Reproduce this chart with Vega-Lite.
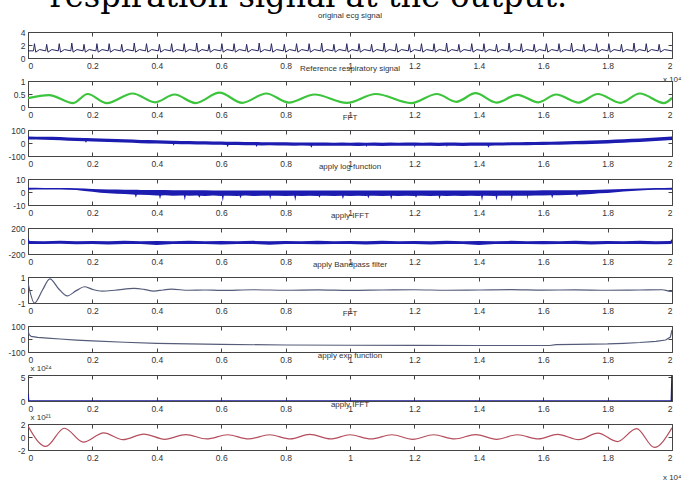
{
"$schema": "https://vega.github.io/schema/vega-lite/v6.json",
"padding": {"left": 7, "top": -20, "right": 4, "bottom": 2},
"title": {"text": "respiration signal at the output.", "font": "DejaVu Serif", "fontSize": 32, "fontWeight": "normal", "color": "#000000", "anchor": "start", "dx": 42, "offset": -2},
"spacing": 23,
"bounds": "flush",
"config": {
 "view": {"stroke": "#444444", "strokeWidth": 1},
 "axis": {"domain": false, "grid": false, "tickSize": -4, "tickColor": "#444444", "labelFont": "Liberation Sans", "labelFontSize": 8.5, "labelColor": "#333333", "labelPadding": 7, "titleFont": "Liberation Sans", "titleFontSize": 8, "titleFontWeight": "normal", "titleColor": "#333333"},
 "title": {"font": "Liberation Sans", "fontSize": 8, "fontWeight": "normal", "color": "#333333", "offset": 4}
},
"datasets": {
"frame": [{"x": 1, "y": 0}],
"ecg": [
{"x":0,"y":1.1},
{"x":0.017,"y":1.1},{"x":0.020,"y":2.2},{"x":0.024,"y":0.9},{"x":0.036,"y":1.3},
{"x":0.055,"y":1.1},{"x":0.058,"y":2.1},{"x":0.062,"y":0.9},{"x":0.074,"y":1.3},
{"x":0.094,"y":1.1},{"x":0.097,"y":2.2},{"x":0.101,"y":0.9},{"x":0.113,"y":1.3},
{"x":0.133,"y":1.1},{"x":0.136,"y":2.3},{"x":0.140,"y":0.9},{"x":0.152,"y":1.3},
{"x":0.171,"y":1.1},{"x":0.174,"y":2.1},{"x":0.178,"y":0.9},{"x":0.190,"y":1.3},
{"x":0.211,"y":1.1},{"x":0.214,"y":2.2},{"x":0.218,"y":0.9},{"x":0.230,"y":1.3},
{"x":0.249,"y":1.1},{"x":0.252,"y":2.2},{"x":0.256,"y":0.9},{"x":0.268,"y":1.3},
{"x":0.288,"y":1.1},{"x":0.291,"y":2.1},{"x":0.295,"y":0.9},{"x":0.307,"y":1.3},
{"x":0.327,"y":1.1},{"x":0.330,"y":2.3},{"x":0.334,"y":0.9},{"x":0.346,"y":1.3},
{"x":0.365,"y":1.1},{"x":0.368,"y":2.2},{"x":0.372,"y":0.9},{"x":0.384,"y":1.3},
{"x":0.405,"y":1.1},{"x":0.408,"y":2.1},{"x":0.412,"y":0.9},{"x":0.424,"y":1.3},
{"x":0.443,"y":1.1},{"x":0.446,"y":2.2},{"x":0.450,"y":0.9},{"x":0.462,"y":1.3},
{"x":0.482,"y":1.1},{"x":0.485,"y":2.2},{"x":0.489,"y":0.9},{"x":0.501,"y":1.3},
{"x":0.521,"y":1.1},{"x":0.524,"y":2.3},{"x":0.528,"y":0.9},{"x":0.540,"y":1.3},
{"x":0.559,"y":1.1},{"x":0.562,"y":2.1},{"x":0.566,"y":0.9},{"x":0.578,"y":1.3},
{"x":0.599,"y":1.1},{"x":0.602,"y":2.2},{"x":0.606,"y":0.9},{"x":0.618,"y":1.3},
{"x":0.637,"y":1.1},{"x":0.640,"y":2.2},{"x":0.644,"y":0.9},{"x":0.656,"y":1.3},
{"x":0.676,"y":1.1},{"x":0.679,"y":2.1},{"x":0.683,"y":0.9},{"x":0.695,"y":1.3},
{"x":0.715,"y":1.1},{"x":0.718,"y":2.3},{"x":0.722,"y":0.9},{"x":0.734,"y":1.3},
{"x":0.753,"y":1.1},{"x":0.756,"y":2.2},{"x":0.760,"y":0.9},{"x":0.772,"y":1.3},
{"x":0.793,"y":1.1},{"x":0.796,"y":2.1},{"x":0.800,"y":0.9},{"x":0.812,"y":1.3},
{"x":0.831,"y":1.1},{"x":0.834,"y":2.2},{"x":0.838,"y":0.9},{"x":0.850,"y":1.3},
{"x":0.870,"y":1.1},{"x":0.873,"y":2.2},{"x":0.877,"y":0.9},{"x":0.889,"y":1.3},
{"x":0.909,"y":1.1},{"x":0.912,"y":2.3},{"x":0.916,"y":0.9},{"x":0.928,"y":1.3},
{"x":0.947,"y":1.1},{"x":0.950,"y":2.1},{"x":0.954,"y":0.9},{"x":0.966,"y":1.3},
{"x":0.987,"y":1.1},{"x":0.990,"y":2.2},{"x":0.994,"y":0.9},{"x":1.006,"y":1.3},
{"x":1.025,"y":1.1},{"x":1.028,"y":2.2},{"x":1.032,"y":0.9},{"x":1.044,"y":1.3},
{"x":1.064,"y":1.1},{"x":1.067,"y":2.1},{"x":1.071,"y":0.9},{"x":1.083,"y":1.3},
{"x":1.103,"y":1.1},{"x":1.106,"y":2.3},{"x":1.110,"y":0.9},{"x":1.122,"y":1.3},
{"x":1.141,"y":1.1},{"x":1.144,"y":2.2},{"x":1.148,"y":0.9},{"x":1.160,"y":1.3},
{"x":1.181,"y":1.1},{"x":1.184,"y":2.1},{"x":1.188,"y":0.9},{"x":1.200,"y":1.3},
{"x":1.219,"y":1.1},{"x":1.222,"y":2.2},{"x":1.226,"y":0.9},{"x":1.238,"y":1.3},
{"x":1.258,"y":1.1},{"x":1.261,"y":2.2},{"x":1.265,"y":0.9},{"x":1.277,"y":1.3},
{"x":1.297,"y":1.1},{"x":1.300,"y":2.3},{"x":1.304,"y":0.9},{"x":1.316,"y":1.3},
{"x":1.335,"y":1.1},{"x":1.338,"y":2.1},{"x":1.342,"y":0.9},{"x":1.354,"y":1.3},
{"x":1.375,"y":1.1},{"x":1.378,"y":2.2},{"x":1.382,"y":0.9},{"x":1.394,"y":1.3},
{"x":1.413,"y":1.1},{"x":1.416,"y":2.2},{"x":1.420,"y":0.9},{"x":1.432,"y":1.3},
{"x":1.452,"y":1.1},{"x":1.455,"y":2.1},{"x":1.459,"y":0.9},{"x":1.471,"y":1.3},
{"x":1.491,"y":1.1},{"x":1.494,"y":2.3},{"x":1.498,"y":0.9},{"x":1.510,"y":1.3},
{"x":1.529,"y":1.1},{"x":1.532,"y":2.2},{"x":1.536,"y":0.9},{"x":1.548,"y":1.3},
{"x":1.569,"y":1.1},{"x":1.572,"y":2.1},{"x":1.576,"y":0.9},{"x":1.588,"y":1.3},
{"x":1.607,"y":1.1},{"x":1.610,"y":2.2},{"x":1.614,"y":0.9},{"x":1.626,"y":1.3},
{"x":1.646,"y":1.1},{"x":1.649,"y":2.2},{"x":1.653,"y":0.9},{"x":1.665,"y":1.3},
{"x":1.685,"y":1.1},{"x":1.688,"y":2.3},{"x":1.692,"y":0.9},{"x":1.704,"y":1.3},
{"x":1.723,"y":1.1},{"x":1.726,"y":2.1},{"x":1.730,"y":0.9},{"x":1.742,"y":1.3},
{"x":1.763,"y":1.1},{"x":1.766,"y":2.2},{"x":1.770,"y":0.9},{"x":1.782,"y":1.3},
{"x":1.801,"y":1.1},{"x":1.804,"y":2.2},{"x":1.808,"y":0.9},{"x":1.820,"y":1.3},
{"x":1.840,"y":1.1},{"x":1.843,"y":2.1},{"x":1.847,"y":0.9},{"x":1.859,"y":1.3},
{"x":1.879,"y":1.1},{"x":1.882,"y":2.3},{"x":1.886,"y":0.9},{"x":1.898,"y":1.3},
{"x":1.917,"y":1.1},{"x":1.920,"y":2.2},{"x":1.924,"y":0.9},{"x":1.936,"y":1.3},
{"x":1.957,"y":1.1},{"x":1.960,"y":2.1},{"x":1.964,"y":0.9},{"x":1.976,"y":1.3},
{"x":2.0,"y":1.1}
],
"resp": [
{"x":0,"y":0.34},{"x":0.065,"y":0.46},{"x":0.14,"y":0.15},{"x":0.185,"y":0.5},{"x":0.245,"y":0.15},{"x":0.325,"y":0.52},{"x":0.395,"y":0.18},{"x":0.455,"y":0.48},{"x":0.52,"y":0.15},{"x":0.595,"y":0.55},{"x":0.665,"y":0.16},{"x":0.74,"y":0.52},{"x":0.81,"y":0.17},{"x":0.89,"y":0.48},{"x":0.99,"y":0.16},{"x":1.08,"y":0.5},{"x":1.19,"y":0.15},{"x":1.27,"y":0.5},{"x":1.33,"y":0.2},{"x":1.39,"y":0.53},{"x":1.455,"y":0.17},{"x":1.52,"y":0.47},{"x":1.585,"y":0.18},{"x":1.64,"y":0.48},{"x":1.71,"y":0.17},{"x":1.77,"y":0.5},{"x":1.84,"y":0.16},{"x":1.9,"y":0.52},{"x":1.975,"y":0.15},{"x":2.0,"y":0.35}
],
"fft1": [
{"x":0,"lo":26,"hi":50},{"x":0.025,"lo":27,"hi":49},{"x":0.05,"lo":25,"hi":48},{"x":0.075,"lo":24,"hi":48},{"x":0.1,"lo":21,"hi":46},{"x":0.125,"lo":18,"hi":43},{"x":0.15,"lo":16,"hi":41},{"x":0.175,"lo":14,"hi":39},{"x":0.2,"lo":12,"hi":36},{"x":0.225,"lo":9,"hi":34},{"x":0.25,"lo":7,"hi":32},{"x":0.275,"lo":5,"hi":30},{"x":0.3,"lo":3,"hi":28},{"x":0.325,"lo":1,"hi":26},{"x":0.35,"lo":-2,"hi":24},{"x":0.375,"lo":-4,"hi":23},{"x":0.4,"lo":-3,"hi":22},{"x":0.425,"lo":-6,"hi":20},{"x":0.45,"lo":-8,"hi":18},{"x":0.475,"lo":-9,"hi":16},{"x":0.5,"lo":-10,"hi":15},{"x":0.525,"lo":-12,"hi":14},{"x":0.55,"lo":-11,"hi":13},{"x":0.575,"lo":-14,"hi":12},{"x":0.6,"lo":-13,"hi":11},{"x":0.625,"lo":-15,"hi":10},{"x":0.65,"lo":-16,"hi":9},{"x":0.675,"lo":-17,"hi":8},{"x":0.7,"lo":-18,"hi":7},{"x":0.725,"lo":-19,"hi":6},{"x":0.75,"lo":-18,"hi":6},{"x":0.775,"lo":-20,"hi":5},{"x":0.8,"lo":-19,"hi":5},{"x":0.825,"lo":-21,"hi":4},{"x":0.85,"lo":-20,"hi":4},{"x":0.875,"lo":-21,"hi":3},{"x":0.9,"lo":-21,"hi":3},{"x":0.925,"lo":-22,"hi":3},{"x":0.95,"lo":-21,"hi":2},{"x":0.975,"lo":-22,"hi":3},{"x":1.0,"lo":-21,"hi":2},{"x":1.025,"lo":-23,"hi":3},{"x":1.05,"lo":-22,"hi":2},{"x":1.075,"lo":-21,"hi":3},{"x":1.1,"lo":-23,"hi":2},{"x":1.125,"lo":-22,"hi":3},{"x":1.15,"lo":-22,"hi":2},{"x":1.175,"lo":-21,"hi":3},{"x":1.2,"lo":-22,"hi":3},{"x":1.225,"lo":-22,"hi":2},{"x":1.25,"lo":-21,"hi":3},{"x":1.275,"lo":-23,"hi":2},{"x":1.3,"lo":-22,"hi":3},{"x":1.325,"lo":-21,"hi":3},{"x":1.35,"lo":-23,"hi":2},{"x":1.375,"lo":-22,"hi":3},{"x":1.4,"lo":-21,"hi":3},{"x":1.425,"lo":-21,"hi":3},{"x":1.45,"lo":-20,"hi":4},{"x":1.475,"lo":-19,"hi":4},{"x":1.5,"lo":-18,"hi":5},{"x":1.525,"lo":-18,"hi":6},{"x":1.55,"lo":-17,"hi":7},{"x":1.575,"lo":-16,"hi":8},{"x":1.6,"lo":-15,"hi":9},{"x":1.625,"lo":-14,"hi":10},{"x":1.65,"lo":-13,"hi":11},{"x":1.675,"lo":-12,"hi":13},{"x":1.7,"lo":-10,"hi":15},{"x":1.725,"lo":-9,"hi":17},{"x":1.75,"lo":-7,"hi":19},{"x":1.775,"lo":-5,"hi":21},{"x":1.8,"lo":-3,"hi":23},{"x":1.825,"lo":0,"hi":26},{"x":1.85,"lo":2,"hi":29},{"x":1.875,"lo":5,"hi":32},{"x":1.9,"lo":8,"hi":35},{"x":1.925,"lo":12,"hi":39},{"x":1.95,"lo":16,"hi":42},{"x":1.975,"lo":20,"hi":46},{"x":2.0,"lo":24,"hi":50},
{"x":0.177,"lo":13,"hi":38},{"x":0.18,"lo":2,"hi":38},{"x":0.183,"lo":13,"hi":38},
{"x":0.449,"lo":-8,"hi":18},{"x":0.452,"lo":-22,"hi":18},{"x":0.455,"lo":-8,"hi":18},
{"x":0.617,"lo":-15,"hi":10},{"x":0.62,"lo":-32,"hi":10},{"x":0.623,"lo":-15,"hi":10},
{"x":0.707,"lo":-18,"hi":7},{"x":0.71,"lo":-30,"hi":7},{"x":0.713,"lo":-18,"hi":7},
{"x":0.877,"lo":-21,"hi":3},{"x":0.88,"lo":-36,"hi":3},{"x":0.883,"lo":-21,"hi":3},
{"x":1.047,"lo":-22,"hi":2},{"x":1.05,"lo":-33,"hi":2},{"x":1.053,"lo":-22,"hi":2},
{"x":1.197,"lo":-22,"hi":3},{"x":1.2005,"lo":-38,"hi":3},{"x":1.203,"lo":-22,"hi":3},
{"x":1.297,"lo":-22,"hi":3},{"x":1.3005,"lo":-31,"hi":3},{"x":1.303,"lo":-22,"hi":3},
{"x":1.427,"lo":-21,"hi":3},{"x":1.43,"lo":-36,"hi":3},{"x":1.433,"lo":-21,"hi":3}
],
"logf": [
{"x":0,"lo":1.8,"hi":3.3},{"x":0.025,"lo":2.0,"hi":3.2},{"x":0.05,"lo":2.0,"hi":3.1},{"x":0.075,"lo":1.9,"hi":3.1},{"x":0.1,"lo":1.9,"hi":3.0},{"x":0.125,"lo":1.8,"hi":3.0},{"x":0.15,"lo":1.5,"hi":2.9},{"x":0.175,"lo":0.8,"hi":2.7},{"x":0.2,"lo":0.2,"hi":2.4},{"x":0.225,"lo":-0.5,"hi":2.2},{"x":0.25,"lo":-1.0,"hi":2.0},{"x":0.275,"lo":-1.3,"hi":1.9},{"x":0.3,"lo":-1.6,"hi":1.8},
{"x":0.325,"lo":-2.0,"hi":1.7},{"x":0.35,"lo":-2.2,"hi":1.6},{"x":0.375,"lo":-2.4,"hi":1.6},{"x":0.4,"lo":-2.6,"hi":1.5},{"x":0.425,"lo":-2.5,"hi":1.5},{"x":0.45,"lo":-2.8,"hi":1.4},{"x":0.475,"lo":-2.6,"hi":1.4},{"x":0.5,"lo":-2.9,"hi":1.3},{"x":0.525,"lo":-2.7,"hi":1.3},{"x":0.55,"lo":-3.0,"hi":1.3},{"x":0.575,"lo":-2.7,"hi":1.2},{"x":0.6,"lo":-3.1,"hi":1.2},{"x":0.625,"lo":-2.8,"hi":1.2},{"x":0.65,"lo":-3.0,"hi":1.2},{"x":0.675,"lo":-2.7,"hi":1.2},{"x":0.7,"lo":-3.1,"hi":1.1},{"x":0.725,"lo":-2.8,"hi":1.1},{"x":0.75,"lo":-3.0,"hi":1.1},{"x":0.775,"lo":-2.8,"hi":1.1},{"x":0.8,"lo":-3.1,"hi":1.1},{"x":0.825,"lo":-2.9,"hi":1.1},{"x":0.85,"lo":-3.0,"hi":1.1},{"x":0.875,"lo":-2.8,"hi":1.1},{"x":0.9,"lo":-3.1,"hi":1.1},{"x":0.925,"lo":-2.9,"hi":1.1},{"x":0.95,"lo":-3.0,"hi":1.1},{"x":0.975,"lo":-2.8,"hi":1.1},{"x":1.0,"lo":-3.1,"hi":1.1},{"x":1.025,"lo":-2.9,"hi":1.1},{"x":1.05,"lo":-3.0,"hi":1.1},{"x":1.075,"lo":-2.8,"hi":1.1},{"x":1.1,"lo":-3.1,"hi":1.1},{"x":1.125,"lo":-2.9,"hi":1.1},{"x":1.15,"lo":-3.0,"hi":1.1},{"x":1.175,"lo":-2.8,"hi":1.1},{"x":1.2,"lo":-3.1,"hi":1.1},{"x":1.225,"lo":-2.9,"hi":1.1},{"x":1.25,"lo":-3.0,"hi":1.1},{"x":1.275,"lo":-2.8,"hi":1.1},{"x":1.3,"lo":-3.1,"hi":1.1},{"x":1.325,"lo":-2.9,"hi":1.1},{"x":1.35,"lo":-3.0,"hi":1.1},{"x":1.375,"lo":-2.8,"hi":1.1},{"x":1.4,"lo":-3.1,"hi":1.1},{"x":1.425,"lo":-2.9,"hi":1.1},{"x":1.45,"lo":-3.0,"hi":1.2},{"x":1.475,"lo":-2.8,"hi":1.2},{"x":1.5,"lo":-3.0,"hi":1.2},{"x":1.525,"lo":-2.8,"hi":1.2},{"x":1.55,"lo":-2.9,"hi":1.2},{"x":1.575,"lo":-2.7,"hi":1.2},{"x":1.6,"lo":-2.7,"hi":1.3},{"x":1.625,"lo":-2.5,"hi":1.3},{"x":1.65,"lo":-2.5,"hi":1.3},{"x":1.675,"lo":-2.3,"hi":1.4},{"x":1.7,"lo":-2.2,"hi":1.4},
{"x":1.725,"lo":-2.0,"hi":1.5},{"x":1.75,"lo":-1.6,"hi":1.6},{"x":1.775,"lo":-1.0,"hi":1.8},{"x":1.8,"lo":-0.7,"hi":1.9},{"x":1.825,"lo":-0.2,"hi":2.1},{"x":1.85,"lo":0.3,"hi":2.3},{"x":1.875,"lo":0.8,"hi":2.5},{"x":1.9,"lo":1.2,"hi":2.7},{"x":1.925,"lo":1.5,"hi":2.9},{"x":1.95,"lo":1.7,"hi":3.0},{"x":1.975,"lo":1.8,"hi":3.1},{"x":2.0,"lo":1.8,"hi":3.3},
{"x":0.332,"lo":-2.1,"hi":1.7},{"x":0.335,"lo":-4.5,"hi":1.7},{"x":0.338,"lo":-2.1,"hi":1.7},
{"x":0.407,"lo":-2.6,"hi":1.5},{"x":0.41,"lo":-5.5,"hi":1.5},{"x":0.413,"lo":-2.6,"hi":1.5},
{"x":0.484,"lo":-2.7,"hi":1.4},{"x":0.487,"lo":-6.5,"hi":1.4},{"x":0.49,"lo":-2.7,"hi":1.4},
{"x":0.529,"lo":-2.8,"hi":1.3},{"x":0.532,"lo":-4.5,"hi":1.3},{"x":0.535,"lo":-2.8,"hi":1.3},
{"x":0.602,"lo":-2.9,"hi":1.2},{"x":0.605,"lo":-7.5,"hi":1.2},{"x":0.608,"lo":-2.9,"hi":1.2},
{"x":0.657,"lo":-2.9,"hi":1.2},{"x":0.66,"lo":-5.0,"hi":1.2},{"x":0.663,"lo":-2.9,"hi":1.2},
{"x":0.749,"lo":-2.9,"hi":1.1},{"x":0.752,"lo":-6.0,"hi":1.1},{"x":0.755,"lo":-2.9,"hi":1.1},
{"x":0.827,"lo":-2.9,"hi":1.1},{"x":0.83,"lo":-7.0,"hi":1.1},{"x":0.833,"lo":-2.9,"hi":1.1},
{"x":0.902,"lo":-2.9,"hi":1.1},{"x":0.905,"lo":-4.5,"hi":1.1},{"x":0.908,"lo":-2.9,"hi":1.1},
{"x":0.975,"lo":-2.9,"hi":1.1},{"x":0.978,"lo":-5.5,"hi":1.1},{"x":0.981,"lo":-2.9,"hi":1.1},
{"x":1.054,"lo":-2.9,"hi":1.1},{"x":1.057,"lo":-5.0,"hi":1.1},{"x":1.06,"lo":-2.9,"hi":1.1},
{"x":1.128,"lo":-6.0,"hi":1.1},{"x":1.131,"lo":-2.9,"hi":1.1},
{"x":1.202,"lo":-2.9,"hi":1.1},{"x":1.205,"lo":-4.5,"hi":1.1},{"x":1.208,"lo":-2.9,"hi":1.1},
{"x":1.278,"lo":-5.5,"hi":1.1},{"x":1.281,"lo":-2.9,"hi":1.1},
{"x":1.407,"lo":-2.9,"hi":1.1},{"x":1.41,"lo":-7.0,"hi":1.1},{"x":1.413,"lo":-2.9,"hi":1.1},
{"x":1.452,"lo":-2.9,"hi":1.2},{"x":1.455,"lo":-6.5,"hi":1.2},{"x":1.458,"lo":-2.9,"hi":1.2},
{"x":1.499,"lo":-2.9,"hi":1.2},{"x":1.502,"lo":-7.5,"hi":1.2},{"x":1.505,"lo":-2.9,"hi":1.2},
{"x":1.55,"lo":-6.0,"hi":1.2},{"x":1.553,"lo":-2.8,"hi":1.2},
{"x":1.628,"lo":-5.0,"hi":1.3},{"x":1.631,"lo":-2.5,"hi":1.3},
{"x":1.702,"lo":-2.2,"hi":1.4},{"x":1.705,"lo":-4.0,"hi":1.4},{"x":1.708,"lo":-2.2,"hi":1.4}
],
"ifft1": [
{"x":0,"lo":-40,"hi":45},{"x":0.005,"lo":-45,"hi":0},{"x":0.05,"lo":-48,"hi":-2},{"x":0.1,"lo":-44,"hi":3},{"x":0.15,"lo":-50,"hi":-5},{"x":0.2,"lo":-46,"hi":0},{"x":0.25,"lo":-55,"hi":-3},{"x":0.3,"lo":-45,"hi":2},{"x":0.35,"lo":-47,"hi":-4},{"x":0.4,"lo":-60,"hi":0},{"x":0.45,"lo":-45,"hi":-2},{"x":0.5,"lo":-48,"hi":4},{"x":0.55,"lo":-46,"hi":-3},{"x":0.6,"lo":-52,"hi":0},{"x":0.65,"lo":-45,"hi":-4},{"x":0.7,"lo":-47,"hi":2},{"x":0.75,"lo":-58,"hi":-2},{"x":0.8,"lo":-46,"hi":0},{"x":0.85,"lo":-45,"hi":-3},{"x":0.9,"lo":-50,"hi":3},{"x":0.95,"lo":-46,"hi":-2},{"x":1.0,"lo":-47,"hi":0},{"x":1.05,"lo":-55,"hi":-4},{"x":1.1,"lo":-45,"hi":2},{"x":1.15,"lo":-48,"hi":-2},{"x":1.2,"lo":-46,"hi":0},{"x":1.25,"lo":-52,"hi":-3},{"x":1.3,"lo":-45,"hi":3},{"x":1.35,"lo":-47,"hi":-2},{"x":1.4,"lo":-60,"hi":0},{"x":1.45,"lo":-46,"hi":-4},{"x":1.5,"lo":-48,"hi":2},{"x":1.55,"lo":-45,"hi":-2},{"x":1.6,"lo":-50,"hi":0},{"x":1.65,"lo":-46,"hi":-3},{"x":1.7,"lo":-47,"hi":3},{"x":1.75,"lo":-55,"hi":-2},{"x":1.8,"lo":-45,"hi":0},{"x":1.85,"lo":-48,"hi":-3},{"x":1.9,"lo":-46,"hi":2},{"x":1.95,"lo":-50,"hi":-2},{"x":1.995,"lo":-45,"hi":0},{"x":2.0,"lo":-40,"hi":30}
],
"bp": [
{"x":0,"y":0.55},{"x":0.02,"y":-1.0},{"x":0.045,"y":0.0},{"x":0.068,"y":0.85},{"x":0.095,"y":0.1},{"x":0.122,"y":-0.45},{"x":0.15,"y":-0.05},{"x":0.175,"y":0.25},{"x":0.2,"y":0.05},{"x":0.23,"y":-0.08},{"x":0.27,"y":-0.02},{"x":0.33,"y":0.12},{"x":0.36,"y":0.05},{"x":0.39,"y":-0.08},{"x":0.42,"y":0.0},{"x":0.445,"y":0.06},{"x":0.5,"y":-0.02},{"x":0.55,"y":0.0},{"x":0.6,"y":-0.03},{"x":0.7,"y":0.02},{"x":0.8,"y":-0.02},{"x":0.9,"y":0.01},{"x":1.0,"y":-0.03},{"x":1.1,"y":0.0},{"x":1.2,"y":0.02},{"x":1.3,"y":-0.02},{"x":1.4,"y":0.0},{"x":1.5,"y":0.03},{"x":1.6,"y":-0.01},{"x":1.7,"y":0.01},{"x":1.8,"y":-0.02},{"x":1.9,"y":0.0},{"x":1.97,"y":0.02},{"x":1.99,"y":-0.08},{"x":2.0,"y":-0.1}
],
"fft2": [
{"x":0,"y":70},{"x":0.003,"y":35},{"x":0.01,"y":20},{"x":0.03,"y":12},{"x":0.06,"y":6},{"x":0.1,"y":0},{"x":0.15,"y":-8},{"x":0.2,"y":-15},{"x":0.3,"y":-25},{"x":0.4,"y":-33},{"x":0.5,"y":-38},{"x":0.6,"y":-42},{"x":0.8,"y":-46},{"x":1.0,"y":-48},{"x":1.2,"y":-49},{"x":1.4,"y":-50},{"x":1.62,"y":-50},{"x":1.64,"y":-43},{"x":1.7,"y":-42},{"x":1.8,"y":-38},{"x":1.85,"y":-33},{"x":1.9,"y":-27},{"x":1.95,"y":-18},{"x":1.98,"y":-8},{"x":1.995,"y":15},{"x":2.0,"y":70}
],
"expf": [
{"x":0,"y":1.5},{"x":0.002,"y":0},{"x":1.998,"y":0},{"x":2.0,"y":5.5}
],
"ifft2": [
{"x":0,"y":1.7},{"x":0.055,"y":-1.45},{"x":0.113,"y":1.35},{"x":0.172,"y":-0.8},{"x":0.235,"y":0.65},{"x":0.295,"y":-0.4},{"x":0.36,"y":0.45},{"x":0.425,"y":-0.35},{"x":0.49,"y":0.38},{"x":0.555,"y":-0.3},{"x":0.62,"y":0.35},{"x":0.685,"y":-0.3},{"x":0.75,"y":0.35},{"x":0.815,"y":-0.3},{"x":0.875,"y":0.4},{"x":0.94,"y":-0.3},{"x":1.0,"y":0.35},{"x":1.065,"y":-0.3},{"x":1.13,"y":0.35},{"x":1.195,"y":-0.35},{"x":1.26,"y":0.35},{"x":1.325,"y":-0.3},{"x":1.39,"y":0.38},{"x":1.455,"y":-0.35},{"x":1.52,"y":0.35},{"x":1.585,"y":-0.3},{"x":1.645,"y":0.4},{"x":1.71,"y":-0.4},{"x":1.77,"y":0.6},{"x":1.83,"y":-0.7},{"x":1.89,"y":1.3},{"x":1.945,"y":-1.6},{"x":2.0,"y":1.4}
]
},
"vconcat": [
{
 "title": {"text": "original ecg signal", "offset": 8},
 "width": 644, "height": 26,
 "resolve": {"axis": {"x": "independent", "y": "independent"}},
 "layer": [
  {"data": {"name": "ecg"}, "mark": {"type": "line", "color": "#262660", "strokeWidth": 1, "clip": true},
   "encoding": {
    "x": {"field": "x", "type": "quantitative", "scale": {"domain": [0, 2], "nice": false}, "axis": {"values": [0,0.2,0.4,0.6,0.8,1,1.2,1.4,1.6,1.8,2], "labelExpr": "'' + datum.value", "title": "x 10⁴", "titleX": 653, "titleY": 21, "titleAlign": "right", "titleBaseline": "middle", "titleFontSize": 8}},
    "y": {"field": "y", "type": "quantitative", "scale": {"domain": [0, 4], "nice": false, "zero": false}, "axis": {"values": [0,2,4], "labelExpr": "'' + datum.value", "title": null}}}},
  {"data": {"name": "frame"}, "mark": {"type": "point", "opacity": 0},
   "encoding": {
    "x": {"field": "x", "type": "quantitative", "scale": {"domain": [0, 2], "nice": false}, "axis": {"orient": "top", "values": [0,0.2,0.4,0.6,0.8,1,1.2,1.4,1.6,1.8,2], "labels": false, "title": null}},
    "y": {"field": "y", "type": "quantitative", "scale": {"domain": [0, 4], "nice": false, "zero": false}, "axis": {"orient": "right", "values": [0,2,4], "labels": false, "title": null}}}}
 ]
},
{
 "title": "Reference respiratory signal",
 "width": 644, "height": 26,
 "resolve": {"axis": {"x": "independent", "y": "independent"}},
 "layer": [
  {"data": {"name": "resp"}, "mark": {"type": "line", "color": "#3cc43c", "strokeWidth": 2.2, "interpolate": "monotone", "clip": true},
   "encoding": {
    "x": {"field": "x", "type": "quantitative", "scale": {"domain": [0, 2], "nice": false}, "axis": {"values": [0,0.2,0.4,0.6,0.8,1,1.2,1.4,1.6,1.8,2], "labelExpr": "'' + datum.value", "title": null}},
    "y": {"field": "y", "type": "quantitative", "scale": {"domain": [0, 1], "nice": false, "zero": false}, "axis": {"values": [0,0.5,1], "labelExpr": "'' + datum.value", "title": null}}}},
  {"data": {"name": "frame"}, "mark": {"type": "point", "opacity": 0},
   "encoding": {
    "x": {"field": "x", "type": "quantitative", "scale": {"domain": [0, 2], "nice": false}, "axis": {"orient": "top", "values": [0,0.2,0.4,0.6,0.8,1,1.2,1.4,1.6,1.8,2], "labels": false, "title": null}},
    "y": {"field": "y", "type": "quantitative", "scale": {"domain": [0, 1], "nice": false, "zero": false}, "axis": {"orient": "right", "values": [0,0.5,1], "labels": false, "title": null}}}}
 ]
},
{
 "title": "FFT",
 "width": 644, "height": 26,
 "resolve": {"axis": {"x": "independent", "y": "independent"}},
 "layer": [
  {"data": {"name": "fft1"}, "mark": {"type": "area", "color": "#1c1cb0", "clip": true},
   "encoding": {
    "x": {"field": "x", "type": "quantitative", "scale": {"domain": [0, 2], "nice": false}, "axis": {"values": [0,0.2,0.4,0.6,0.8,1,1.2,1.4,1.6,1.8,2], "labelExpr": "'' + datum.value", "title": null}},
    "y": {"field": "lo", "type": "quantitative", "scale": {"domain": [-100, 100], "nice": false, "zero": false}, "axis": {"values": [-100,0,100], "labelExpr": "'' + datum.value", "title": null}},
    "y2": {"field": "hi"}}},
  {"data": {"name": "frame"}, "mark": {"type": "point", "opacity": 0},
   "encoding": {
    "x": {"field": "x", "type": "quantitative", "scale": {"domain": [0, 2], "nice": false}, "axis": {"orient": "top", "values": [0,0.2,0.4,0.6,0.8,1,1.2,1.4,1.6,1.8,2], "labels": false, "title": null}},
    "y": {"field": "y", "type": "quantitative", "scale": {"domain": [-100, 100], "nice": false, "zero": false}, "axis": {"orient": "right", "values": [-100,0,100], "labels": false, "title": null}}}}
 ]
},
{
 "title": "apply log function",
 "width": 644, "height": 26,
 "resolve": {"axis": {"x": "independent", "y": "independent"}},
 "layer": [
  {"data": {"name": "logf"}, "mark": {"type": "area", "color": "#1c1cb0", "clip": true},
   "encoding": {
    "x": {"field": "x", "type": "quantitative", "scale": {"domain": [0, 2], "nice": false}, "axis": {"values": [0,0.2,0.4,0.6,0.8,1,1.2,1.4,1.6,1.8,2], "labelExpr": "'' + datum.value", "title": null}},
    "y": {"field": "lo", "type": "quantitative", "scale": {"domain": [-10, 10], "nice": false, "zero": false}, "axis": {"values": [-10,0,10], "labelExpr": "'' + datum.value", "title": null}},
    "y2": {"field": "hi"}}},
  {"data": {"name": "frame"}, "mark": {"type": "point", "opacity": 0},
   "encoding": {
    "x": {"field": "x", "type": "quantitative", "scale": {"domain": [0, 2], "nice": false}, "axis": {"orient": "top", "values": [0,0.2,0.4,0.6,0.8,1,1.2,1.4,1.6,1.8,2], "labels": false, "title": null}},
    "y": {"field": "y", "type": "quantitative", "scale": {"domain": [-10, 10], "nice": false, "zero": false}, "axis": {"orient": "right", "values": [-10,0,10], "labels": false, "title": null}}}}
 ]
},
{
 "title": "apply IFFT",
 "width": 644, "height": 26,
 "resolve": {"axis": {"x": "independent", "y": "independent"}},
 "layer": [
  {"data": {"name": "ifft1"}, "mark": {"type": "area", "color": "#1c1cb0", "clip": true},
   "encoding": {
    "x": {"field": "x", "type": "quantitative", "scale": {"domain": [0, 2], "nice": false}, "axis": {"values": [0,0.2,0.4,0.6,0.8,1,1.2,1.4,1.6,1.8,2], "labelExpr": "'' + datum.value", "title": null}},
    "y": {"field": "lo", "type": "quantitative", "scale": {"domain": [-200, 200], "nice": false, "zero": false}, "axis": {"values": [-200,0,200], "labelExpr": "'' + datum.value", "title": null}},
    "y2": {"field": "hi"}}},
  {"data": {"name": "frame"}, "mark": {"type": "point", "opacity": 0},
   "encoding": {
    "x": {"field": "x", "type": "quantitative", "scale": {"domain": [0, 2], "nice": false}, "axis": {"orient": "top", "values": [0,0.2,0.4,0.6,0.8,1,1.2,1.4,1.6,1.8,2], "labels": false, "title": null}},
    "y": {"field": "y", "type": "quantitative", "scale": {"domain": [-200, 200], "nice": false, "zero": false}, "axis": {"orient": "right", "values": [-200,0,200], "labels": false, "title": null}}}}
 ]
},
{
 "title": "apply Bandpass filter",
 "width": 644, "height": 26,
 "resolve": {"axis": {"x": "independent", "y": "independent"}},
 "layer": [
  {"data": {"name": "bp"}, "mark": {"type": "line", "color": "#555c7a", "strokeWidth": 1.2, "interpolate": "monotone", "clip": true},
   "encoding": {
    "x": {"field": "x", "type": "quantitative", "scale": {"domain": [0, 2], "nice": false}, "axis": {"values": [0,0.2,0.4,0.6,0.8,1,1.2,1.4,1.6,1.8,2], "labelExpr": "'' + datum.value", "title": null}},
    "y": {"field": "y", "type": "quantitative", "scale": {"domain": [-1, 1], "nice": false, "zero": false}, "axis": {"values": [-1,0,1], "labelExpr": "'' + datum.value", "title": null}}}},
  {"data": {"name": "frame"}, "mark": {"type": "point", "opacity": 0},
   "encoding": {
    "x": {"field": "x", "type": "quantitative", "scale": {"domain": [0, 2], "nice": false}, "axis": {"orient": "top", "values": [0,0.2,0.4,0.6,0.8,1,1.2,1.4,1.6,1.8,2], "labels": false, "title": null}},
    "y": {"field": "y", "type": "quantitative", "scale": {"domain": [-1, 1], "nice": false, "zero": false}, "axis": {"orient": "right", "values": [-1,0,1], "labels": false, "title": null}}}}
 ]
},
{
 "title": "FFT",
 "width": 644, "height": 26,
 "resolve": {"axis": {"x": "independent", "y": "independent"}},
 "layer": [
  {"data": {"name": "fft2"}, "mark": {"type": "line", "color": "#555c7a", "strokeWidth": 1.2, "clip": true},
   "encoding": {
    "x": {"field": "x", "type": "quantitative", "scale": {"domain": [0, 2], "nice": false}, "axis": {"values": [0,0.2,0.4,0.6,0.8,1,1.2,1.4,1.6,1.8,2], "labelExpr": "'' + datum.value", "title": null}},
    "y": {"field": "y", "type": "quantitative", "scale": {"domain": [-100, 100], "nice": false, "zero": false}, "axis": {"values": [-100,0,100], "labelExpr": "'' + datum.value", "title": null}}}},
  {"data": {"name": "frame"}, "mark": {"type": "point", "opacity": 0},
   "encoding": {
    "x": {"field": "x", "type": "quantitative", "scale": {"domain": [0, 2], "nice": false}, "axis": {"orient": "top", "values": [0,0.2,0.4,0.6,0.8,1,1.2,1.4,1.6,1.8,2], "labels": false, "title": null}},
    "y": {"field": "y", "type": "quantitative", "scale": {"domain": [-100, 100], "nice": false, "zero": false}, "axis": {"orient": "right", "values": [-100,0,100], "labels": false, "title": null}}}}
 ]
},
{
 "title": "apply exp function",
 "width": 644, "height": 26,
 "resolve": {"axis": {"x": "independent", "y": "independent"}},
 "layer": [
  {"data": {"name": "expf"}, "mark": {"type": "line", "color": "#1a1a9a", "strokeWidth": 1.5, "clip": true},
   "encoding": {
    "x": {"field": "x", "type": "quantitative", "scale": {"domain": [0, 2], "nice": false}, "axis": {"values": [0,0.2,0.4,0.6,0.8,1,1.2,1.4,1.6,1.8,2], "labelExpr": "'' + datum.value", "title": null}},
    "y": {"field": "y", "type": "quantitative", "scale": {"domain": [0, 5.5], "nice": false, "zero": false}, "axis": {"values": [0,5], "labelExpr": "'' + datum.value", "title": "x 10²⁴", "titleAngle": 0, "titleX": 2, "titleY": -3, "titleAlign": "left", "titleBaseline": "bottom", "titleFontSize": 8}}}},
  {"data": {"name": "frame"}, "mark": {"type": "point", "opacity": 0},
   "encoding": {
    "x": {"field": "x", "type": "quantitative", "scale": {"domain": [0, 2], "nice": false}, "axis": {"orient": "top", "values": [0,0.2,0.4,0.6,0.8,1,1.2,1.4,1.6,1.8,2], "labels": false, "title": null}},
    "y": {"field": "y", "type": "quantitative", "scale": {"domain": [0, 5.5], "nice": false, "zero": false}, "axis": {"orient": "right", "values": [0,5], "labels": false, "title": null}}}}
 ]
},
{
 "title": "apply IFFT",
 "width": 644, "height": 26,
 "resolve": {"axis": {"x": "independent", "y": "independent"}},
 "layer": [
  {"data": {"name": "ifft2"}, "mark": {"type": "line", "color": "#b44d5c", "strokeWidth": 1.2, "interpolate": "monotone", "clip": true},
   "encoding": {
    "x": {"field": "x", "type": "quantitative", "scale": {"domain": [0, 2], "nice": false}, "axis": {"values": [0,0.2,0.4,0.6,0.8,1,1.2,1.4,1.6,1.8,2], "labelExpr": "'' + datum.value", "title": "x 10⁴", "titleX": 653, "titleY": 27, "titleAlign": "right", "titleBaseline": "middle", "titleFontSize": 8}},
    "y": {"field": "y", "type": "quantitative", "scale": {"domain": [-2, 2], "nice": false, "zero": false}, "axis": {"values": [-2,0,2], "labelExpr": "'' + datum.value", "title": "x 10²¹", "titleAngle": 0, "titleX": 2, "titleY": -3, "titleAlign": "left", "titleBaseline": "bottom", "titleFontSize": 8}}}},
  {"data": {"name": "frame"}, "mark": {"type": "point", "opacity": 0},
   "encoding": {
    "x": {"field": "x", "type": "quantitative", "scale": {"domain": [0, 2], "nice": false}, "axis": {"orient": "top", "values": [0,0.2,0.4,0.6,0.8,1,1.2,1.4,1.6,1.8,2], "labels": false, "title": null}},
    "y": {"field": "y", "type": "quantitative", "scale": {"domain": [-2, 2], "nice": false, "zero": false}, "axis": {"orient": "right", "values": [-2,0,2], "labels": false, "title": null}}}}
 ]
}
]
}
